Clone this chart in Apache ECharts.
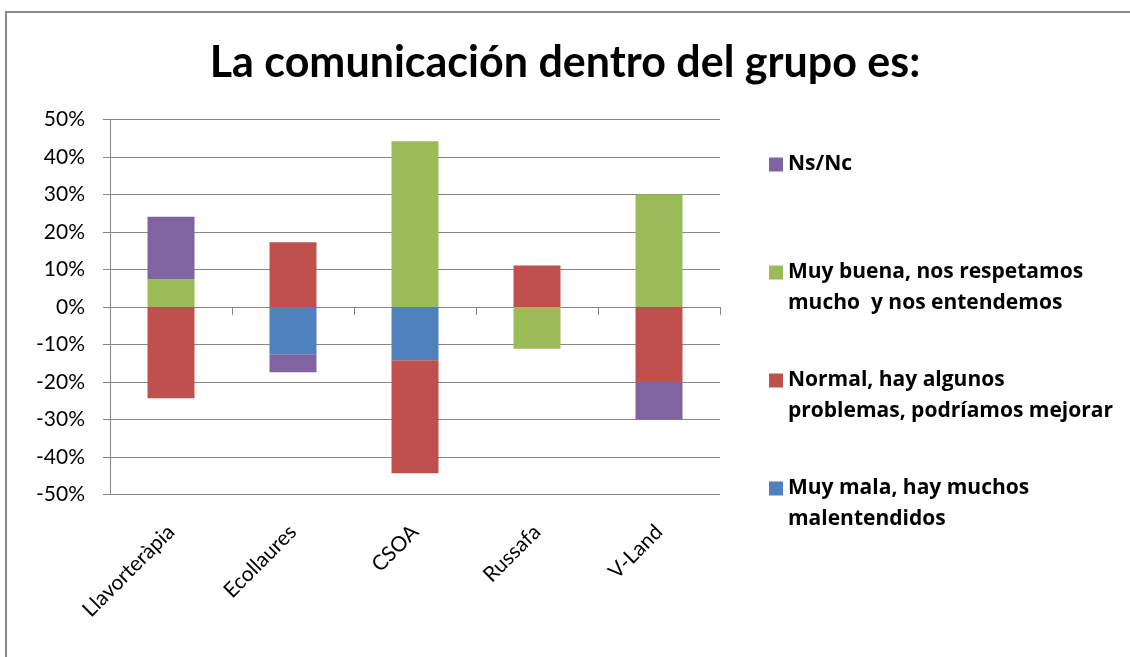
<!DOCTYPE html>
<html><head><meta charset="utf-8">
<script src="https://cdn.jsdelivr.net/npm/echarts@6/dist/echarts.min.js"></script>
<style>html,body{margin:0;padding:0;background:#fff}#c{width:1130px;height:657px}</style>
</head><body><div id="c"></div>
<script>
const titleText = 'La comunicación dentro del grupo es:';
const categories = ['Llavorteràpia', 'Ecollaures', 'CSOA', 'Russafa', 'V-Land'];
const seriesNames = ['Muy mala, hay muchos malentendidos', 'Normal, hay algunos problemas, podríamos mejorar', 'Muy buena, nos respetamos mucho  y nos entendemos', 'Ns/Nc'];
const legendLines = {
  'Ns/Nc': 'Ns/Nc\n',
  'Muy buena, nos respetamos mucho  y nos entendemos': 'Muy buena, nos respetamos\nmucho  y nos entendemos',
  'Normal, hay algunos problemas, podríamos mejorar': 'Normal, hay algunos\nproblemas, podríamos mejorar',
  'Muy mala, hay muchos malentendidos': 'Muy mala, hay muchos\nmalentendidos'
};
const muyMala = [0, -12.6, -14.2, 0, 0];
const normal = [-24.3, 17.3, -30.1, 11.1, -20.0];
const muyBuena = [7.4, 0, 44.2, -11.1, 30.0];
const nsnc = [16.7, -4.8, 0, 0, -10.0];
const yTicks = { min: -50, max: 50, step: 10 };
const colors = ['#4F81BD', '#C0504D', '#9BBB59', '#8064A2'];

const FONT = 'Lato';
const chart = echarts.init(document.getElementById('c'));
const valuesList = [muyMala, normal, muyBuena, nsnc];
const series = seriesNames.map((n, i) => ({
  name: n, type: 'bar', stack: 'total', xAxisIndex: 0,
  barWidth: 47, data: valuesList[i],
  itemStyle: { color: colors[i] }
}));
chart.setOption({
  animation: false,
  color: colors,
  title: {
    text: titleText, left: 'center', top: 37,
    textStyle: { fontFamily: FONT, fontSize: 43, fontWeight: 'bold', color: '#000' }
  },
  legend: {
    orient: 'vertical', left: 764, top: 144,
    itemWidth: 14, itemHeight: 62, itemGap: 46,
    icon: 'path://M0,0M0,8.5L14,8.5L14,22.5L0,22.5ZM14,62',
    data: [seriesNames[3], seriesNames[2], seriesNames[1], seriesNames[0]],
    formatter: n => legendLines[n],
    textStyle: { fontFamily: 'Open Sans', fontSize: 21, fontWeight: 'bold', lineHeight: 31, color: '#000' }
  },
  grid: { left: 110, right: 410, top: 119.5, bottom: 162.5 },
  xAxis: [
    { type: 'category', data: categories, position: 'bottom',
      axisLine: { show: false, onZero: false }, axisTick: { show: false },
      axisLabel: { rotate: 45, margin: 34, fontFamily: FONT, fontSize: 21, color: '#000' } },
    { type: 'category', data: categories, position: 'bottom',
      axisLine: { show: true, onZero: true, lineStyle: { color: '#868686', width: 1 } },
      axisTick: { show: true, length: 8, lineStyle: { color: '#868686' } },
      axisLabel: { show: false } }
  ],
  yAxis: {
    type: 'value', min: yTicks.min, max: yTicks.max, interval: yTicks.step,
    axisLine: { show: true, lineStyle: { color: '#868686' } },
    axisTick: { show: true, length: 7, lineStyle: { color: '#868686' } },
    splitLine: { show: true, lineStyle: { color: '#868686', width: 1 } },
    axisLabel: { formatter: '{value}%', margin: 25, fontFamily: FONT, fontSize: 21, color: '#000' }
  },
  graphic: [{
    type: 'rect', shape: { x: 6, y: 12, width: 1200, height: 700 },
    style: { fill: 'none', stroke: '#8a8a8a', lineWidth: 2 }, silent: true, z: -1
  }],
  series: series
});
</script></body></html>
